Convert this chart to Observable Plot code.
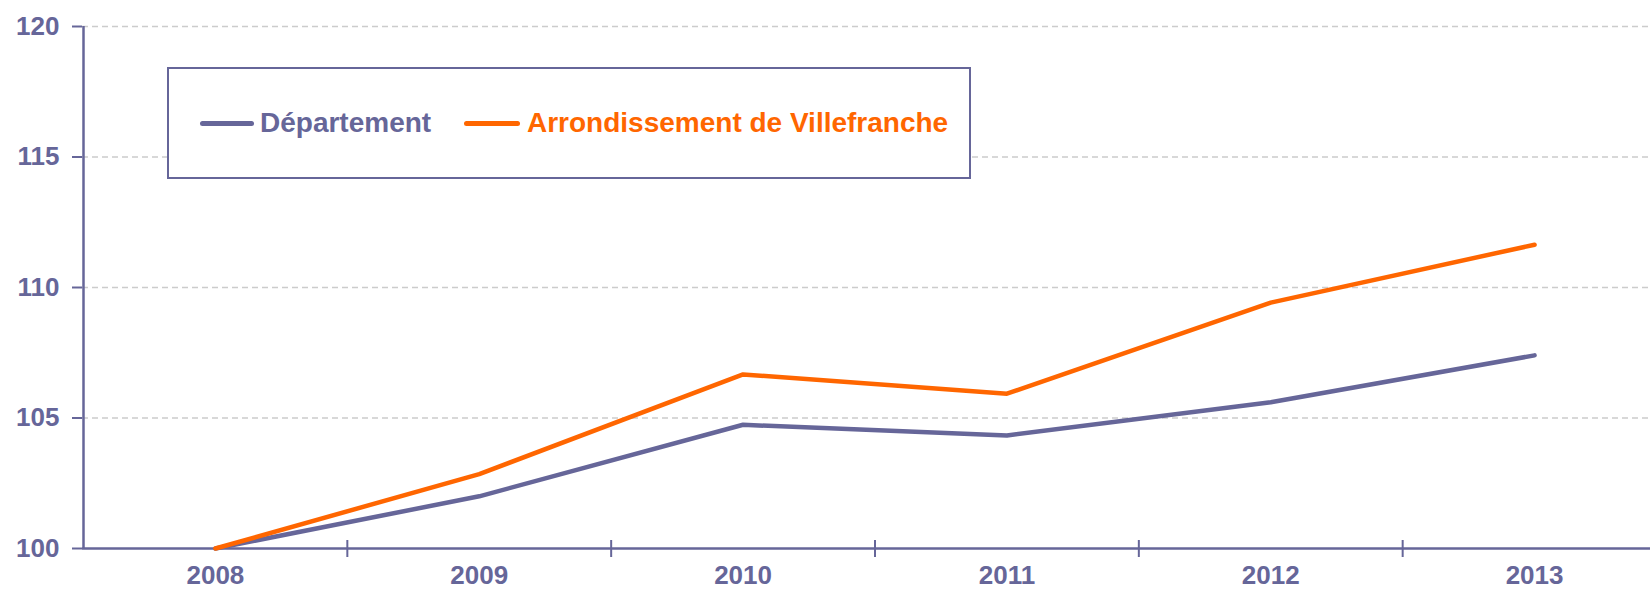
<!DOCTYPE html>
<html>
<head>
<meta charset="utf-8">
<script src="https://cdn.jsdelivr.net/npm/d3@7"></script>
<script src="https://cdn.jsdelivr.net/npm/@observablehq/plot@0.6"></script>
<style>
  body { margin: 0; background: #fff; }
  #wrap { position: relative; width: 1650px; height: 590px; overflow: hidden; font-family: "Liberation Sans", Arial, sans-serif; }
  #legend { position: absolute; left: 167px; top: 67px; width: 800px; height: 108px; border: 2px solid #666699; background: #fff; box-sizing: content-box; }
  .sw { position: absolute; height: 5px; border-radius: 3px; top: 52px; }
  .lt { position: absolute; top: 54px; transform: translateY(-50%); font-size: 28px; font-weight: bold; white-space: nowrap; line-height: 1; }
</style>
</head>
<body>
<div id="wrap"></div>
<script>
const years = [2008, 2009, 2010, 2011, 2012, 2013];
const departement = [100, 102.0, 104.74, 104.33, 105.6, 107.4];
const arrondissement = [100, 102.85, 106.67, 105.93, 109.42, 111.64];
const seriesNames = ["Département", "Arrondissement de Villefranche"];
const seriesColors = ["#666699", "#FF6600"];
const yTicks = [100, 105, 110, 115, 120];
const boundaries = [2008.5, 2009.5, 2010.5, 2011.5, 2012.5, 2013.5];

const data = [
  ...years.map((y, i) => ({year: y, value: departement[i], series: seriesNames[0]})),
  ...years.map((y, i) => ({year: y, value: arrondissement[i], series: seriesNames[1]}))
];

const axisColor = "#666699";
const chart = Plot.plot({
  width: 1650,
  height: 590,
  marginLeft: 82,
  marginRight: 0,
  marginTop: 26,
  marginBottom: 42,
  style: {fontFamily: '"Liberation Sans", Arial, sans-serif', background: "#fff", overflow: "visible"},
  x: {type: "linear", domain: [2007.5, 2013.5], range: [83, 1666]},
  y: {domain: [100, 120]},
  color: {domain: seriesNames, range: seriesColors},
  marks: [
    Plot.ruleY(yTicks.filter(d => d > 100), {stroke: "#cccccc", strokeWidth: 1.5, strokeDasharray: "6,4"}),
    Plot.axisY({ticks: yTicks, tickSize: 10, tickPadding: 13, fontSize: 26, fontWeight: "bold", fill: axisColor, stroke: axisColor, strokeWidth: 2, tickFormat: d => d, label: null}),
    Plot.axisX({ticks: years, tickSize: 0, tickPadding: 17, fontSize: 26, fontWeight: "bold", fill: axisColor, tickFormat: d => String(d), label: null}),
    Plot.axisX({ticks: boundaries, tickSize: 17, dy: -8, stroke: axisColor, strokeWidth: 2, tickFormat: () => "", label: null}),
    Plot.ruleY([100], {stroke: axisColor, strokeWidth: 2.5}),
    Plot.ruleX([2007.5], {stroke: axisColor, strokeWidth: 2.5}),
    Plot.lineY(data, {x: "year", y: "value", stroke: "series", z: "series", strokeWidth: 4.5, strokeLinejoin: "round", strokeLinecap: "round"})
  ]
});

const wrap = document.getElementById("wrap");
wrap.appendChild(chart);

const legend = document.createElement("div");
legend.id = "legend";
const items = [
  {sx: 31, sw: 54, tx: 91},
  {sx: 295, sw: 56, tx: 358}
];
seriesNames.forEach((name, i) => {
  const s = document.createElement("div");
  s.className = "sw";
  s.style.left = items[i].sx + "px";
  s.style.width = items[i].sw + "px";
  s.style.background = seriesColors[i];
  legend.appendChild(s);
  const t = document.createElement("div");
  t.className = "lt";
  t.style.left = items[i].tx + "px";
  t.style.color = seriesColors[i];
  t.textContent = name;
  legend.appendChild(t);
});
wrap.appendChild(legend);
</script>
</body>
</html>
